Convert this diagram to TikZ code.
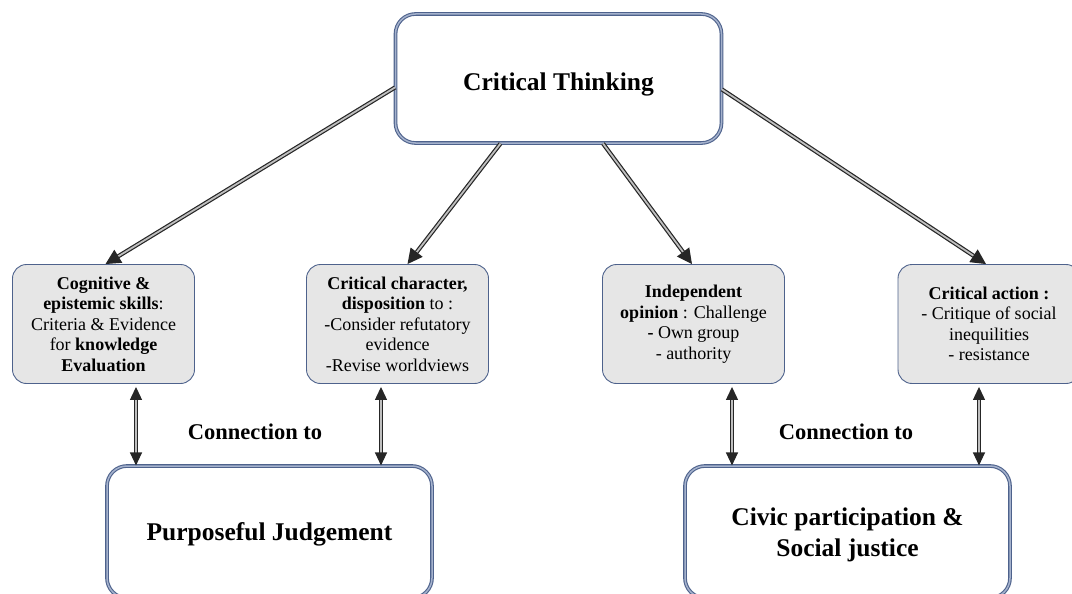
\documentclass[tikz,border=0pt]{standalone}
\usepackage{fontspec}
\setmainfont{Liberation Serif}
\usetikzlibrary{arrows.meta}
\definecolor{bord}{RGB}{78,98,140}
\definecolor{bordlight}{RGB}{165,178,205}
\definecolor{boxfill}{RGB}{230,230,230}
\begin{document}
\begin{tikzpicture}[x=1pt,y=-1pt,
  bigbox/.style={draw=bord, line width=1.1pt, double=bordlight, double distance=1.5pt,
    rounded corners=20pt, fill=white, inner sep=0pt, align=center,
    font=\fontsize{25.5}{31}\selectfont\bfseries},
  smallbox/.style={draw=bord, line width=0.9pt, fill=boxfill, rounded corners=14pt,
    inner sep=0pt, align=center, minimum width=182pt, minimum height=119pt,
    font=\fontsize{18}{20.5}\selectfont},
  link/.style={draw=black!85, line width=1.2pt, double=gray!50, double distance=1.8pt,
    -{Triangle[width=15pt,length=15pt]}},
  bilink/.style={draw=black!85, line width=1.2pt, double=gray!50, double distance=1.8pt,
    {Triangle[width=12pt,length=13pt]}-{Triangle[width=12pt,length=13pt]}},
  lbl/.style={font=\fontsize{22.5}{26}\selectfont\bfseries}]
\useasboundingbox (0,0) rectangle (1072,594);

\node[bigbox, minimum width=326pt, minimum height=129pt, text height=30pt, text depth=6pt] (ct) at (558.5,78.5) {Critical Thinking};

\node[smallbox] (b1) at (103.5,324) {\textbf{Cognitive \&}\\ \textbf{epistemic skills}:\\ Criteria \& Evidence\\ for \textbf{knowledge}\\ \textbf{Evaluation}};
\node[smallbox] (b2) at (397.5,324) {\textbf{Critical character,}\\ \textbf{disposition} to :\\ -Consider refutatory\\ evidence\\ -Revise worldviews};
\node[smallbox] (b3) at (693.5,324) {\textbf{Independent}\\ \textbf{opinion} : Challenge\\ \textbf{-} Own group\\ - authority};
\node[smallbox] (b4) at (989,324) {\textbf{Critical action :}\\ - Critique of social\\ inequilities\\ - resistance};

\node[bigbox, minimum width=325pt, minimum height=132pt, text height=22pt, text depth=6pt] (pj) at (269.5,532) {Purposeful Judgement};
\node[bigbox, minimum width=325pt, minimum height=132pt] (cs) at (847.5,532) {\raisebox{-9pt}[0pt][0pt]{\begin{tabular}{@{}c@{}}Civic participation \&\\ Social justice\end{tabular}}};

\node[lbl] (l1) at (255,432) {Connection to};
\node[lbl] (l2) at (846,432) {Connection to};

\draw[link] ([yshift=-9pt]ct.west) -- ([xshift=2pt]b1.north);
\draw[link] ([xshift=-58pt]ct.south) -- ([xshift=10pt]b2.north);
\draw[link] ([xshift=44.5pt]ct.south) -- ([xshift=-1.5pt]b3.north);
\draw[link] ([yshift=-11pt]ct.east) -- ([xshift=-3pt]b4.north);

\coordinate (v1) at ([xshift=32.5pt]b1.south);
\coordinate (v2) at ([xshift=-16.5pt]b2.south);
\coordinate (v3) at ([xshift=38.5pt]b3.south);
\coordinate (v4) at ([xshift=-10pt]b4.south);
\draw[bilink] ([yshift=-3pt]v1) -- (v1 |- pj.north);
\draw[bilink] ([yshift=-3pt]v2) -- (v2 |- pj.north);
\draw[bilink] ([yshift=-3pt]v3) -- (v3 |- cs.north);
\draw[bilink] ([yshift=-3pt]v4) -- (v4 |- cs.north);
\end{tikzpicture}
\end{document}
